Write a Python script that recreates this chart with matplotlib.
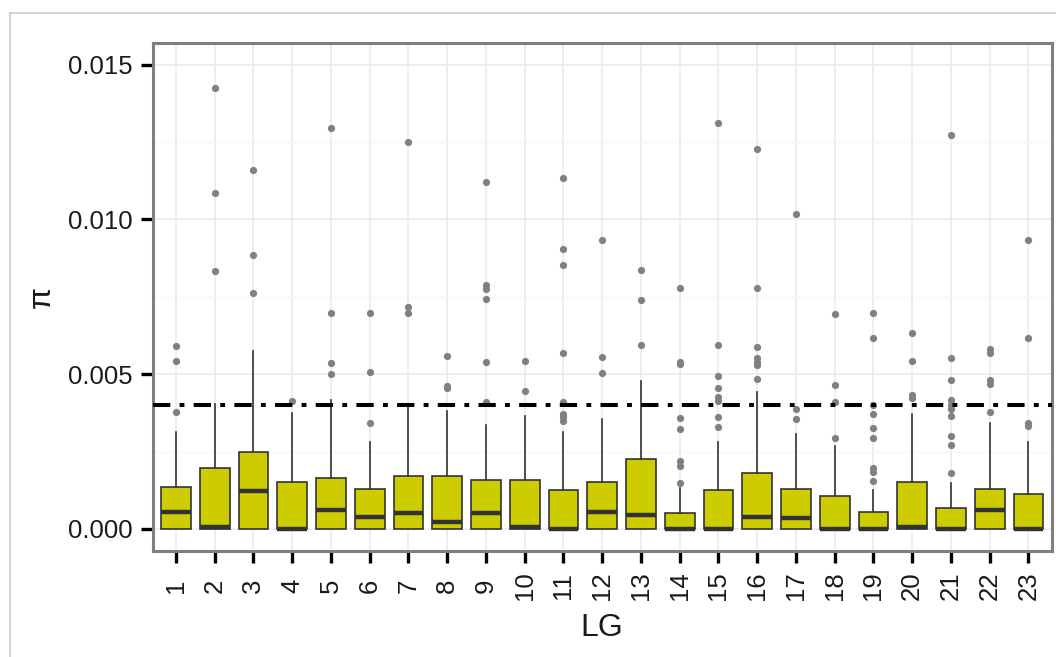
import matplotlib
matplotlib.use("Agg")
import matplotlib.pyplot as plt
from matplotlib.lines import Line2D
from matplotlib.ticker import MultipleLocator

plt.rcParams['font.family'] = ['Liberation Sans', 'DejaVu Sans']

# ---- data ----
groups = [str(i) for i in range(1, 24)]
q1 = [0.0] * 23
medians = [0.00056, 0.00008, 0.00124, 0.0, 0.0006, 0.0004, 0.00052, 0.00022,
           0.00052, 0.00008, 0.0, 0.00056, 0.00045, 0.0, 0.0, 0.0004, 0.00037,
           0.0, 0.0, 0.00008, 0.0, 0.00061, 0.0]
q3 = [0.001355, 0.00198, 0.00248, 0.00153, 0.00164, 0.00129, 0.00171, 0.00171,
      0.00158, 0.00158, 0.00125, 0.00153, 0.00226, 0.00052, 0.00125, 0.00181,
      0.00129, 0.00108, 0.00056, 0.00153, 0.00067, 0.00129, 0.00113]
whisker_low = [0.0] * 23
whisker_high = [0.00314, 0.00405, 0.00574, 0.00376, 0.00416, 0.0028, 0.00397,
                0.0038, 0.00336, 0.00366, 0.00314, 0.00354, 0.00477, 0.00131,
                0.0028, 0.00443, 0.00306, 0.00268, 0.00126, 0.0037, 0.00149,
                0.00341, 0.0028]
outliers = [
    [0.00591, 0.00544, 0.00377],
    [0.01425, 0.01085, 0.00835],
    [0.01159, 0.00886, 0.00761],
    [0.00412],
    [0.01295, 0.00698, 0.00535, 0.0050],
    [0.00697, 0.00508, 0.00344],
    [0.01249, 0.00718, 0.00697],
    [0.00559, 0.00462, 0.00454],
    [0.0112, 0.00787, 0.00776, 0.00742, 0.0054, 0.00409],
    [0.00542, 0.00445],
    [0.01133, 0.00905, 0.00853, 0.00567, 0.00411, 0.00373, 0.00362, 0.00349],
    [0.00932, 0.00555, 0.00503],
    [0.00838, 0.00741, 0.00593],
    [0.00778, 0.0054, 0.00532, 0.00359, 0.00323, 0.0022, 0.00203, 0.00149],
    [0.0131, 0.00596, 0.00494, 0.00454, 0.00425, 0.00413, 0.00362, 0.00328],
    [0.01227, 0.00778, 0.00588, 0.00551, 0.0054, 0.00531, 0.00485],
    [0.01018, 0.00389, 0.00355],
    [0.00694, 0.00466, 0.00409, 0.00295],
    [0.00697, 0.00618, 0.004, 0.00373, 0.00325, 0.00294, 0.00198, 0.00185, 0.00156],
    [0.00633, 0.00543, 0.00434, 0.00422],
    [0.01273, 0.00554, 0.00482, 0.00416, 0.00402, 0.00389, 0.00365, 0.003, 0.00271, 0.00182],
    [0.00581, 0.00567, 0.00481, 0.00468, 0.00378],
    [0.00932, 0.00617, 0.00344, 0.00332],
]
threshold = 0.004
yticks = [0.0, 0.005, 0.010, 0.015]
ytick_labels = ["0.000", "0.005", "0.010", "0.015"]

# ---- figure ----
W, H = 1056, 657
fig = plt.figure(figsize=(W / 100, H / 100), dpi=100)
ax = fig.add_axes([152.7 / W, 1 - 551 / H, 899 / W, (551 - 42.7) / H])

stats = []
for i in range(len(groups)):
    stats.append(dict(q1=q1[i], med=medians[i], q3=q3[i],
                      whislo=whisker_low[i], whishi=whisker_high[i],
                      fliers=outliers[i], label=groups[i]))

positions = list(range(1, len(groups) + 1))
ax.bxp(stats, positions=positions, widths=0.77, patch_artist=True,
       showcaps=False,
       boxprops=dict(facecolor='#cccc00', edgecolor='#333333', linewidth=1.2),
       medianprops=dict(color='#333333', linewidth=3.2, solid_capstyle='butt'),
       whiskerprops=dict(color='#333333', linewidth=1.2),
       flierprops=dict(marker='o', markerfacecolor='#808080',
                       markeredgecolor='none', markersize=5.2),
       zorder=3)

ax.axhline(threshold, color='black', linewidth=2.9,
           linestyle=(0, (4.3, 2.3, 1.2, 2.3)), zorder=5)

ax.set_xlim(0.4, 23.6)
ax.set_ylim(-0.000711, 0.01571)
ax.set_xticks(positions)
ax.set_xticklabels(groups, rotation=90, ha='center', va='center')
ax.set_yticks(yticks)
ax.set_yticklabels(ytick_labels)
ax.yaxis.set_minor_locator(MultipleLocator(0.0025))

ax.set_axisbelow(True)
ax.grid(True, which='major', color='#ebebeb', linewidth=1.2, zorder=0)
ax.grid(True, which='minor', axis='y', color='#f5f5f5', linewidth=1.0, zorder=0)

for s in ax.spines.values():
    s.set_edgecolor('#7f7f7f')
    s.set_linewidth(2.2)

ax.tick_params(axis='both', which='major', length=8.6, width=2.4,
               color='black', labelsize=18.5, labelcolor='#1a1a1a')
ax.tick_params(axis='y', which='major', pad=5.5)
ax.tick_params(axis='x', which='major', pad=16.5)
ax.tick_params(axis='y', which='minor', length=0)

ax.set_xlabel("LG", fontsize=23, color='#1a1a1a')
ax.xaxis.set_label_coords((602.2 - 152.7) / 899, (551 - 628) / (551 - 42.7))
ax.xaxis.label.set_va('center')
ax.set_ylabel("π", fontsize=23, color='#1a1a1a', rotation=90)
ax.yaxis.set_label_coords((42 - 152.7) / 899, 0.5)
ax.yaxis.label.set_va('center')
ax.yaxis.label.set_rotation_mode('default')

# outer light-gray frame (cut off at right and bottom)
fig.add_artist(Line2D([10 / W, 10 / W], [1 - 12.7 / H, 0], transform=fig.transFigure,
                      color='#c8c8c8', linewidth=1.1))
fig.add_artist(Line2D([10 / W, 1], [1 - 12.7 / H, 1 - 12.7 / H], transform=fig.transFigure,
                      color='#c8c8c8', linewidth=1.1))

fig.savefig("out.png", dpi=100)
